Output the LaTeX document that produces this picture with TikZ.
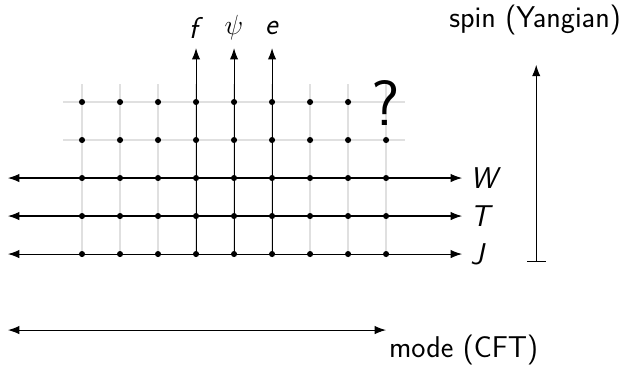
\documentclass[tikz,border=0pt]{standalone}
\usetikzlibrary{arrows.meta}

\begin{document}
\begin{tikzpicture}[
  font=\sffamily\fontsize{22.5}{27}\selectfont,
  axis/.style={-{Latex[length=3mm,width=2.2mm]}, line width=0.8pt, draw=black},
  both/.style={{Latex[length=3mm,width=2.2mm]}-{Latex[length=3mm,width=2.2mm]}, line width=0.8pt, draw=black},
  gridline/.style={draw=black!12, line width=1.1pt},
  dot/.style={circle, fill=black, inner sep=0pt, minimum size=1.6mm},
  tag/.style={inner sep=1pt}
]
\useasboundingbox (-2.158,-2.974) rectangle (14.26,6.684);

% light grid
\foreach \x in {0,...,8}
  \draw[gridline] (\x,0) -- (\x,4.47);
\foreach \y in {3,4}
  \draw[gridline] (-0.5,\y) -- (8.5,\y);

% labels
\node[tag,anchor=west,inner xsep=6pt] (W) at (10,2) {\textit{W}};
\node[tag,anchor=west,inner xsep=6pt] (T) at (10,1) {\textit{T}};
\node[tag,anchor=west,inner xsep=6pt] (J) at (10,0) {\textit{J}};
\node[tag] (f) at (3,5.95) {\textit{f}};
\node[tag] (psi) at (4,5.95) {$\psi$};
\node[tag] (e) at (5,5.95) {\textit{e}};

% horizontal axes
\foreach \y/\n in {0/J,1/T,2/W}
  \draw[both] (-1.95,\y) -- (\n.west);

% vertical axes
\foreach \x/\n in {3/f,4/psi,5/e}
  \draw[axis] (\x,0) -- (\x,5.42);

% dots
\foreach \x in {0,...,8}
  \foreach \y in {0,...,3}
    \node[dot] at (\x,\y) {};
\foreach \x in {0,...,7}
  \node[dot] at (\x,4) {};

\node (q) at (8,3.97) {\fontsize{48}{56}\selectfont ?};

% spin direction
\node (spin) at (11.92,6.16) {spin (Yangian)};
\coordinate (spinfoot) at (11.95,-0.2);
\draw[{Bar[width=5mm]}-{Latex[length=3mm,width=2.2mm]}, line width=0.8pt] (spinfoot) -- (11.95,4.98);

% mode direction
\node (mode) at (10.04,-2.53) {mode (CFT)};
\draw[both] (-1.95,-2) -- (8,-2);

\end{tikzpicture}
\end{document}
